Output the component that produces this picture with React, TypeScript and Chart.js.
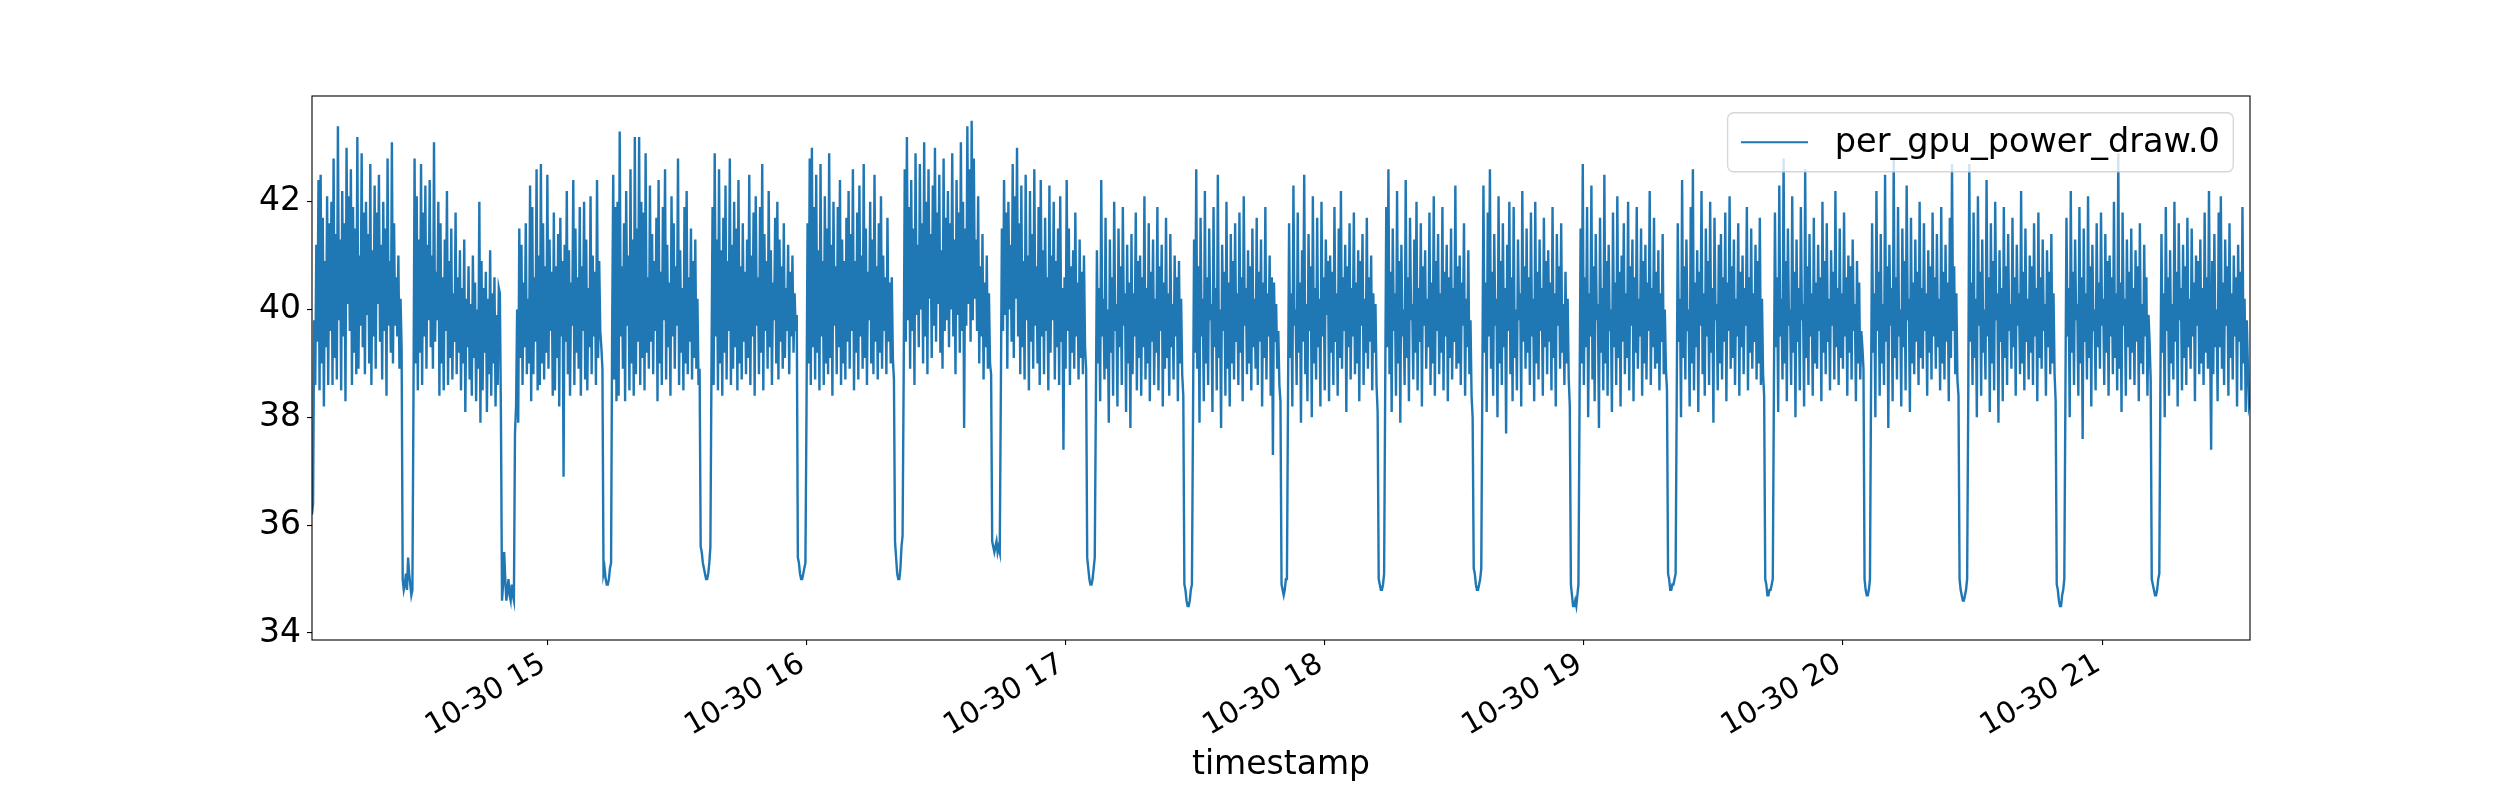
import { useEffect, useRef } from "react";
import Chart from "chart.js/auto";

const seriesName = "per_gpu_power_draw.0";
const xTitle = "timestamp";
const dayLabel = "10-30";
const hourTicks = [15, 16, 17, 18, 19, 20, 21];
const powerTicks = [34, 36, 38, 40, 42];
const powerMin = 33.87;
const powerMax = 43.96;
// first sample 14:05:30, then one sample every 15 s
const firstSampleMinute = 14 * 60 + 5.5;
const sampleStepMinutes = 0.25;

const powerDraw = [
  // 14:05 - 14:26
  36.2, 36.4, 39.8, 38.6, 41.2, 39.4, 42.4, 38.5, 42.5, 39.0, 41.7, 38.2, 40.9, 39.3, 42.1, 38.6, 41.6, 39.6, 42.0, 38.6,
  42.8, 39.1, 41.4, 38.7, 43.4, 39.8, 41.3, 38.5, 42.2, 39.5, 41.6, 38.3, 43.0, 40.1, 42.1, 39.6, 42.6, 38.6, 41.9, 39.2,
  41.5, 38.8, 43.2, 38.9, 41.0, 39.7, 42.9, 39.3, 41.8, 38.8, 42.0, 39.9, 41.4, 39.0, 42.7, 38.6, 41.1, 39.5, 42.3, 38.9,
  41.8, 40.1, 42.5, 39.4, 41.2, 38.7, 42.0, 39.6, 41.5, 38.4, 42.8, 39.7, 40.9, 39.2, 43.1, 39.0, 41.6, 39.7, 40.6, 39.5,
  41.0, 38.9, 40.2, 39.3,
  35.0, 34.8, 34.9, 35.1, 34.8, 35.4, 35.1, 34.9, 34.7, 34.8,
  // 14:29 - 14:49
  38.4, 42.8, 39.0, 42.1, 38.5, 41.3, 39.2, 42.7, 38.6, 41.8, 39.5, 42.3, 38.9, 41.2, 39.8, 42.4, 39.3, 41.0, 38.9, 43.1,
  39.4, 40.7, 39.8, 42.0, 38.4, 41.6, 39.0, 40.6, 38.5, 41.3, 39.6, 42.2, 38.6, 40.9, 39.1, 41.5, 38.7, 40.3, 39.4, 41.8,
  38.8, 40.6, 39.2, 41.1, 38.5, 40.4, 39.0, 41.3, 38.1, 40.2, 39.3, 40.8, 38.7, 40.1, 38.4, 41.0, 39.1, 40.5, 38.3, 40.0,
  38.9, 42.0, 37.9, 40.9, 38.5, 40.4, 39.2, 40.7, 38.1, 40.2, 38.8, 41.1, 38.4, 40.3, 39.0, 40.6, 38.2, 39.9, 38.6, 40.4,
  40.3, 38.0,
  34.6, 34.9, 35.5, 35.0, 34.6, 34.8, 35.0, 34.7, 34.6, 34.9, 34.7, 34.6,
  // 14:52 - 15:12
  37.7, 38.2, 40.0, 37.9, 41.5, 39.1, 41.2, 38.6, 40.5, 39.3, 41.6, 38.8, 40.2, 39.0, 42.3, 38.3, 41.9, 38.8, 40.6, 39.4,
  42.6, 38.5, 41.0, 38.6, 42.7, 39.0, 41.6, 38.7, 40.8, 39.2, 42.5, 38.9, 41.3, 39.6, 40.7, 38.4, 41.8, 38.5, 40.8, 39.1,
  41.4, 38.2, 41.7, 39.5, 40.9, 36.9, 41.2, 39.4, 42.2, 38.8, 41.1, 38.4, 40.5, 39.7, 42.4, 38.6, 41.5, 39.2, 40.6, 38.9,
  41.9, 38.4, 40.8, 39.6, 42.0, 38.7, 41.3, 38.5, 40.4, 39.3, 42.1, 38.8, 41.0, 39.5, 40.7, 38.6, 42.4, 39.1, 40.9, 39.6,
  39.3, 38.9,
  35.1, 35.2, 35.0, 34.9, 34.9, 35.0, 35.2, 35.3,
  // 15:15 - 15:35
  39.6, 42.5, 38.7, 41.9, 38.3, 42.0, 38.4, 43.3, 39.5, 40.8, 38.9, 41.6, 38.3, 42.2, 39.7, 41.0, 38.5, 42.6, 39.0, 41.3,
  38.4, 43.2, 38.8, 41.5, 39.4, 43.2, 38.6, 42.0, 39.1, 41.8, 38.5, 42.9, 39.2, 40.6, 38.9, 42.3, 39.4, 41.4, 38.8, 40.9,
  39.6, 41.7, 38.3, 42.4, 39.0, 40.7, 38.6, 41.9, 39.8, 42.6, 38.7, 41.2, 39.3, 40.5, 38.4, 42.1, 39.5, 41.6, 38.9, 40.8,
  39.7, 42.8, 38.6, 41.1, 39.2, 40.4, 38.5, 41.9, 39.0, 42.2, 38.8, 40.6, 39.4, 41.5, 38.7, 40.9, 39.1, 41.3, 38.9, 40.2,
  38.6, 38.9,
  35.6, 35.5, 35.3, 35.2, 35.1, 35.0, 35.0, 35.1, 35.3, 35.6,
  // 15:38 - 15:58
  38.9, 41.9, 38.6, 42.9, 39.5, 41.3, 38.5, 42.6, 39.0, 41.1, 38.4, 41.7, 39.2, 42.3, 38.7, 40.9, 39.6, 42.8, 38.6, 41.2,
  38.9, 42.0, 39.3, 41.5, 38.5, 42.4, 39.0, 40.8, 38.7, 41.6, 39.4, 40.7, 38.8, 41.3, 39.1, 42.5, 38.6, 41.0, 39.5, 41.8,
  38.4, 42.1, 39.7, 40.6, 38.8, 41.9, 39.2, 42.7, 38.5, 41.4, 39.6, 40.9, 38.9, 42.2, 39.3, 41.1, 38.6, 40.5, 39.8, 41.7,
  39.0, 42.0, 38.7, 41.3, 39.4, 40.8, 38.9, 41.6, 39.1, 40.4, 39.6, 41.2, 38.8, 40.7, 39.5, 41.0, 39.2, 40.3, 39.6, 39.9,
  35.4, 35.3, 35.1, 35.0, 35.0, 35.1, 35.2, 35.3,
  // 16:00 - 16:20
  38.1, 41.6, 39.0, 42.8, 38.6, 43.0, 39.3, 41.9, 38.7, 42.5, 39.2, 41.1, 38.5, 42.7, 39.5, 40.9, 38.6, 42.1, 39.0, 41.5,
  38.8, 42.9, 39.1, 41.2, 38.4, 42.0, 39.7, 40.8, 38.8, 41.9, 39.3, 42.4, 38.6, 41.3, 39.0, 40.9, 38.7, 41.7, 39.4, 42.2,
  38.9, 41.4, 39.6, 42.6, 38.5, 40.9, 39.2, 41.8, 38.7, 42.3, 39.5, 41.0, 38.9, 42.7, 39.1, 41.5, 38.6, 40.7, 39.8, 42.0,
  39.0, 41.3, 38.8, 42.5, 39.4, 40.8, 38.7, 41.6, 39.2, 42.1, 38.9, 41.0, 39.6, 40.6, 38.8, 41.7, 39.4, 40.5, 39.0, 40.6,
  39.1, 38.7,
  35.7, 35.4, 35.1, 35.0, 35.0, 35.2, 35.6, 35.8,
  // 16:22 - 16:42
  38.7, 42.6, 39.4, 43.2, 39.8, 41.9, 38.9, 42.4, 39.6, 41.5, 38.6, 42.9, 39.9, 41.2, 39.3, 42.7, 40.0, 41.6, 39.0, 43.1,
  39.5, 42.0, 38.8, 42.6, 40.2, 41.4, 39.1, 42.3, 39.7, 43.0, 39.4, 41.8, 40.1, 42.5, 39.2, 41.1, 38.9, 42.8, 39.6, 41.7,
  39.8, 42.2, 39.3, 41.6, 40.0, 42.9, 39.5, 41.3, 38.8, 42.4, 39.9, 41.8, 39.2, 43.1, 39.6, 42.0, 37.8, 41.5, 39.7, 43.4,
  40.1, 42.6, 39.4, 43.5, 39.8, 42.8, 40.2, 41.3, 39.6, 42.1, 39.0, 40.8, 39.5, 41.4, 38.7, 40.5, 39.3, 41.0, 38.9, 40.3,
  39.0, 38.8,
  35.7, 35.6, 35.5, 35.6, 35.7, 35.5, 35.6, 35.5,
  // 16:45 - 17:05
  38.4, 41.5, 39.6, 42.4, 39.9, 41.8, 38.9, 42.0, 40.0, 41.2, 39.4, 42.7, 39.1, 42.1, 40.2, 43.0, 39.5, 41.6, 38.8, 42.3,
  39.3, 40.9, 38.7, 42.5, 39.8, 41.0, 38.5, 42.2, 39.4, 41.4, 38.9, 42.6, 39.7, 40.8, 39.0, 41.9, 38.6, 42.4, 39.5, 41.1,
  38.8, 41.7, 39.6, 40.6, 38.5, 42.3, 39.2, 41.0, 39.8, 42.0, 38.7, 40.9, 39.3, 41.5, 38.6, 42.1, 39.4, 40.4, 37.4, 40.6,
  38.9, 42.4, 39.6, 41.5, 38.6, 40.8, 39.2, 41.1, 38.9, 41.8, 39.5, 40.5, 38.7, 41.3, 39.1, 40.7, 38.8, 41.0, 39.3, 38.9,
  35.4, 35.2, 35.0, 34.9, 34.9, 35.0, 35.2, 35.4,
  // 17:07 - 17:27
  38.2, 41.1, 39.0, 40.4, 38.3, 42.4, 39.5, 40.2, 38.7, 41.7, 38.9, 40.0, 37.9, 41.3, 39.2, 40.6, 38.4, 42.0, 39.6, 40.1,
  38.2, 41.5, 39.3, 40.8, 38.6, 41.9, 39.7, 40.3, 38.1, 41.2, 39.0, 40.5, 37.8, 41.4, 38.8, 40.3, 39.5, 41.8, 38.5, 40.9,
  39.1, 41.0, 38.4, 40.6, 39.3, 42.1, 38.7, 40.4, 39.0, 41.6, 38.3, 40.7, 39.4, 41.3, 38.6, 40.2, 39.2, 41.9, 38.5, 40.8,
  39.6, 41.2, 38.2, 40.5, 38.9, 41.7, 39.1, 40.3, 38.4, 41.4, 39.3, 40.1, 38.7, 41.0, 39.5, 40.6, 38.3, 40.9, 39.0, 40.2,
  38.8, 38.4,
  34.9, 34.8, 34.6, 34.5, 34.5, 34.6, 34.8, 34.9,
  // 17:29 - 17:50
  38.0, 41.3, 39.2, 42.6, 38.9, 40.8, 37.9, 41.7, 39.5, 40.2, 38.3, 42.2, 39.0, 40.6, 38.6, 41.5, 39.8, 40.1, 38.1, 41.9,
  39.3, 40.4, 38.5, 42.5, 39.1, 40.0, 37.8, 41.2, 39.6, 40.7, 38.4, 42.0, 38.9, 40.5, 38.2, 41.4, 39.0, 40.9, 38.7, 41.6,
  39.4, 40.3, 38.6, 41.8, 39.2, 40.6, 38.3, 42.1, 39.7, 40.4, 38.8, 41.1, 39.0, 40.8, 38.5, 41.5, 39.3, 40.2, 38.9, 41.7,
  38.6, 40.7, 39.4, 41.3, 38.2, 40.5, 39.1, 41.9, 38.7, 40.3, 39.5, 41.0, 38.4, 40.6, 37.3, 40.5, 39.4, 40.1, 38.9, 39.6,
  38.6, 38.3,
  34.9, 34.8, 34.7, 34.8, 35.0, 35.0,
  // 17:52 - 18:12
  38.4, 41.6, 39.1, 40.3, 38.2, 42.3, 39.7, 40.0, 38.6, 41.8, 39.2, 40.5, 37.9, 41.1, 39.4, 42.5, 38.8, 40.1, 38.3, 41.4,
  39.6, 40.8, 38.0, 42.1, 39.0, 40.4, 38.7, 41.7, 39.3, 40.2, 38.2, 42.0, 39.5, 40.6, 38.5, 41.3, 39.9, 40.9, 38.3, 41.0,
  39.2, 40.7, 38.6, 41.9, 39.4, 40.3, 38.4, 41.5, 39.1, 42.2, 38.9, 40.6, 39.6, 41.2, 38.1, 40.8, 39.3, 41.6, 38.7, 40.4,
  39.5, 41.8, 38.8, 40.5, 39.0, 41.1, 38.3, 40.9, 39.7, 41.4, 38.6, 40.2, 39.2, 41.7, 38.9, 40.6, 39.4, 41.0, 38.5, 40.3,
  39.2, 40.1, 38.6, 38.1,
  35.0, 34.9, 34.8, 34.8, 34.9, 35.1,
  // 18:14 - 18:34
  38.5, 41.9, 39.3, 42.6, 38.8, 40.7, 38.1, 41.5, 39.6, 40.3, 38.4, 42.2, 39.0, 40.9, 37.9, 41.2, 39.5, 40.0, 38.6, 42.4,
  39.1, 40.6, 38.3, 41.7, 39.8, 40.1, 38.7, 41.3, 39.2, 42.0, 38.5, 40.4, 39.4, 41.6, 38.2, 40.8, 39.7, 41.1, 38.9, 40.2,
  39.3, 41.8, 38.6, 40.5, 39.0, 42.1, 38.4, 40.9, 39.6, 41.4, 38.8, 40.3, 39.2, 41.9, 38.5, 40.7, 39.5, 41.2, 38.3, 40.6,
  39.1, 41.5, 38.7, 40.4, 39.4, 42.3, 38.9, 40.8, 39.0, 41.0, 38.6, 40.5, 39.7, 41.6, 38.4, 40.2, 39.3, 41.1, 38.8, 39.8,
  38.4, 38.0,
  35.2, 35.1, 34.9, 34.8, 34.8, 34.9, 35.0, 35.2,
  // 18:36 - 18:57
  38.7, 42.3, 39.2, 40.5, 38.1, 41.8, 39.5, 42.6, 38.9, 40.7, 38.4, 41.4, 39.7, 40.2, 38.0, 42.1, 39.0, 40.9, 38.6, 41.6,
  39.3, 40.4, 37.7, 41.2, 39.6, 42.0, 38.8, 40.6, 38.3, 41.9, 39.1, 40.0, 38.5, 41.3, 39.8, 40.3, 38.2, 42.2, 39.4, 40.8,
  38.9, 41.5, 39.2, 40.6, 38.6, 41.8, 39.5, 40.2, 38.3, 42.0, 39.0, 40.7, 38.7, 41.3, 39.6, 40.4, 38.4, 41.7, 39.3, 40.9,
  38.8, 41.1, 39.4, 40.5, 38.5, 41.9, 39.1, 40.3, 38.2, 41.4, 39.7, 40.8, 38.9, 41.6, 39.2, 40.1, 38.6, 40.7, 39.0, 40.2,
  38.7, 38.2,
  34.9, 34.7, 34.5, 34.5, 34.6, 34.5, 34.7, 34.9,
  // 18:59 - 19:19
  38.2, 41.5, 39.0, 42.7, 38.6, 40.6, 39.3, 41.9, 38.0, 40.3, 39.5, 42.3, 38.7, 40.8, 38.3, 41.4, 39.8, 40.1, 37.8, 41.7,
  39.2, 40.4, 38.5, 42.5, 39.0, 40.9, 38.4, 41.2, 39.6, 40.0, 38.1, 41.8, 39.3, 40.5, 38.6, 42.1, 39.1, 40.7, 38.2, 41.0,
  39.4, 41.6, 38.8, 40.3, 39.1, 42.0, 38.5, 40.8, 39.7, 41.3, 38.3, 40.6, 39.2, 41.9, 38.9, 40.2, 39.5, 41.5, 38.4, 40.9,
  39.0, 41.2, 38.7, 40.5, 39.6, 42.2, 38.6, 40.4, 39.3, 41.7, 38.9, 40.7, 39.0, 41.1, 38.5, 40.3, 39.4, 41.4, 38.8, 40.0,
  38.9, 38.5,
  35.1, 35.0, 34.8, 34.8, 34.9, 34.9, 35.0, 35.1,
  // 19:21 - 19:41
  38.3, 41.6, 39.4, 40.2, 38.0, 42.4, 39.1, 40.8, 38.7, 41.3, 39.6, 40.0, 38.2, 41.9, 39.0, 42.6, 38.5, 40.5, 39.3, 41.1,
  38.1, 40.7, 39.7, 42.2, 38.8, 40.3, 38.4, 41.5, 39.5, 40.9, 38.6, 42.0, 39.2, 40.4, 37.9, 41.7, 39.8, 40.1, 38.5, 41.2,
  39.0, 41.4, 38.7, 40.6, 39.4, 41.8, 38.3, 40.5, 39.6, 42.1, 38.9, 40.8, 39.1, 41.3, 38.6, 40.2, 39.5, 41.6, 38.4, 40.7,
  39.3, 41.0, 38.8, 40.4, 39.7, 41.9, 38.5, 40.6, 39.2, 41.5, 38.9, 40.3, 39.4, 41.2, 38.7, 40.9, 39.0, 41.7, 38.6, 40.2,
  38.8, 38.4,
  35.0, 34.9, 34.7, 34.7, 34.8, 34.8, 34.9, 35.0,
  // 19:43 - 20:04
  38.4, 41.8, 39.3, 40.6, 38.1, 42.3, 39.5, 40.2, 38.7, 42.8, 39.0, 40.9, 38.3, 41.5, 39.7, 40.0, 38.6, 42.1, 39.2, 40.7,
  38.0, 41.3, 39.4, 40.4, 38.5, 41.9, 39.8, 40.1, 38.2, 42.6, 39.1, 40.8, 38.6, 41.4, 39.5, 40.3, 38.4, 41.7, 39.0, 40.5,
  38.9, 41.2, 39.6, 40.6, 38.3, 42.0, 39.2, 40.9, 38.8, 41.6, 39.4, 40.2, 38.5, 41.1, 39.7, 40.7, 38.7, 42.2, 39.3, 40.4,
  38.6, 41.5, 39.1, 40.3, 38.9, 41.8, 39.5, 40.6, 38.4, 41.0, 39.2, 40.8, 38.7, 41.3, 39.6, 40.1, 38.3, 40.9, 39.0, 40.5,
  38.7, 39.6, 39.3, 38.9,
  35.0, 34.8, 34.7, 34.7, 34.8, 35.0,
  // 20:06 - 20:26
  38.5, 41.6, 39.2, 40.3, 38.0, 42.2, 39.6, 40.7, 38.4, 41.4, 39.0, 40.1, 38.6, 42.5, 39.4, 40.8, 37.8, 41.2, 39.7, 40.4,
  38.3, 42.8, 39.1, 40.6, 38.7, 41.9, 39.5, 40.0, 38.2, 41.5, 39.3, 40.9, 38.5, 42.3, 39.8, 40.2, 38.1, 41.7, 39.0, 40.5,
  38.8, 41.3, 39.4, 40.7, 38.6, 42.0, 39.1, 40.4, 38.9, 41.6, 39.6, 40.3, 38.4, 41.1, 39.2, 40.8, 38.7, 41.8, 39.5, 40.6,
  38.9, 41.4, 39.3, 40.2, 38.5, 41.9, 39.0, 40.7, 38.7, 41.2, 39.4, 40.5, 38.3, 41.7, 39.1, 42.7, 39.6, 40.8, 38.8, 40.3,
  38.7, 38.4,
  35.0, 34.8, 34.7, 34.6, 34.6, 34.7, 34.8, 35.0,
  // 20:28 - 20:49
  38.2, 42.7, 39.4, 40.5, 38.6, 41.8, 39.1, 40.2, 38.0, 42.1, 39.7, 40.7, 38.4, 41.3, 39.2, 40.0, 38.7, 42.4, 39.5, 40.6,
  38.1, 41.6, 39.0, 40.9, 38.5, 42.0, 39.8, 40.3, 37.9, 41.1, 39.4, 40.4, 38.3, 41.9, 39.1, 40.8, 38.6, 41.4, 39.6, 40.1,
  38.9, 41.7, 39.3, 40.6, 38.4, 41.2, 39.7, 40.3, 38.8, 42.2, 39.0, 40.7, 38.5, 41.5, 39.4, 40.2, 38.7, 41.0, 39.2, 40.8,
  38.6, 41.6, 39.5, 40.4, 38.3, 41.8, 39.1, 40.6, 38.9, 41.3, 39.6, 40.1, 38.4, 41.1, 39.3, 40.7, 38.8, 41.4, 39.0, 40.3,
  38.8, 38.3,
  34.9, 34.8, 34.6, 34.5, 34.5, 34.7, 34.8, 35.0,
  // 20:51 - 21:11
  38.3, 41.7, 39.5, 40.4, 38.0, 42.2, 39.2, 40.7, 38.6, 41.3, 39.8, 40.1, 38.4, 41.9, 39.0, 40.6, 37.6, 41.5, 39.4, 40.3,
  38.7, 42.1, 39.1, 40.8, 38.2, 41.2, 39.6, 40.0, 38.5, 41.6, 39.3, 40.5, 38.9, 41.8, 39.7, 40.2, 38.6, 41.4, 39.2, 40.9,
  38.4, 41.0, 39.5, 40.6, 38.8, 42.0, 39.1, 40.3, 38.5, 42.9, 38.9, 40.5, 38.1, 41.8, 39.7, 40.2, 38.4, 41.3, 39.3, 40.7,
  38.7, 41.5, 39.2, 40.4, 38.6, 41.1, 39.4, 40.8, 38.3, 41.6, 39.0, 40.1, 38.8, 41.2, 39.5, 40.6, 38.4, 39.9, 39.4, 38.7,
  35.0, 34.9, 34.8, 34.7, 34.7, 34.8, 35.0, 35.1,
  // 21:13 - 21:34
  38.6, 41.4, 39.2, 40.3, 38.0, 41.9, 39.6, 40.6, 38.4, 41.1, 39.0, 40.1, 38.7, 42.0, 39.4, 40.7, 38.2, 41.6, 39.8, 40.4,
  38.5, 41.2, 39.1, 40.8, 38.6, 41.7, 39.3, 40.2, 38.9, 41.5, 39.5, 40.5, 38.3, 41.0, 39.7, 40.9, 38.8, 41.3, 39.0, 40.4,
  38.6, 41.8, 39.2, 40.6, 38.9, 42.2, 39.5, 37.4, 40.9, 38.8, 41.4, 39.3, 40.0, 38.3, 41.8, 39.3, 42.1, 38.9, 40.5, 38.6,
  41.3, 39.7, 40.8, 38.4, 41.6, 39.1, 40.3, 38.7, 41.0, 39.5, 40.6, 38.2, 41.2, 39.4, 40.7, 38.5, 41.9, 39.0, 40.2, 38.1,
  39.8, 39.0, 38.2, 38.3,
];

const FONT = "'DejaVu Sans', sans-serif";
const Y_TICK_SIZE = 33;
const X_TICK_SIZE = 29.5;
const LEGEND_SIZE = 33.5;
const LINE_BLUE = "#1f77b4";

const framePlugin = {
  id: "axesFrame",
  afterDatasetsDraw(chart: Chart) {
    const { ctx, chartArea } = chart;
    ctx.save();
    ctx.strokeStyle = "#000";
    ctx.lineWidth = 1.1;
    ctx.strokeRect(
      chartArea.left,
      chartArea.top,
      chartArea.right - chartArea.left,
      chartArea.bottom - chartArea.top
    );
    ctx.restore();
  },
};

// matplotlib style legend inside the axes, upper right
const insetLegend = {
  id: "insetLegend",
  afterDraw(chart: Chart) {
    const { ctx, chartArea } = chart;
    const pad = LEGEND_SIZE * 0.4;
    const handle = LEGEND_SIZE * 2;
    const gap = LEGEND_SIZE * 0.8;
    ctx.save();
    ctx.font = `${LEGEND_SIZE}px ${FONT}`;
    const textWidth = ctx.measureText(seriesName).width;
    const width = pad * 2 + handle + gap + textWidth;
    const height = 59;
    const right = chartArea.right - LEGEND_SIZE * 0.5;
    const top = chartArea.top + LEGEND_SIZE * 0.5;
    const left = right - width;
    const midY = top + height / 2;

    ctx.beginPath();
    ctx.roundRect(left, top, width, height, 6);
    ctx.fillStyle = "rgba(255,255,255,0.8)";
    ctx.fill();
    ctx.strokeStyle = "rgba(204,204,204,0.8)";
    ctx.lineWidth = 1.3;
    ctx.stroke();

    ctx.beginPath();
    ctx.moveTo(left + pad, midY);
    ctx.lineTo(left + pad + handle, midY);
    ctx.strokeStyle = LINE_BLUE;
    ctx.lineWidth = 2;
    ctx.stroke();

    ctx.fillStyle = "#000";
    ctx.textAlign = "left";
    ctx.textBaseline = "middle";
    ctx.fillText(seriesName, left + pad + handle + gap, midY + 1);
    ctx.restore();
  },
};

const App = () => {
  const chartRef = useRef<HTMLCanvasElement | null>(null);

  useEffect(() => {
    if (!chartRef.current) return;

    const points = powerDraw.map((y, i) => ({
      x: firstSampleMinute + i * sampleStepMinutes,
      y,
    }));

    const chartInstance = new Chart(chartRef.current, {
      type: "line",
      data: {
        datasets: [
          {
            label: seriesName,
            data: points,
            borderColor: LINE_BLUE,
            backgroundColor: LINE_BLUE,
            borderWidth: 2.4,
            pointRadius: 0,
            tension: 0,
            fill: false,
          },
        ],
      },
      options: {
        animation: false,
        responsive: true,
        maintainAspectRatio: false,
        layout: { padding: { top: 96, right: 250, bottom: 0, left: 0 } },
        plugins: {
          legend: { display: false },
          tooltip: { enabled: false },
        },
        scales: {
          x: {
            type: "linear",
            min: points[0].x,
            max: points[points.length - 1].x,
            afterBuildTicks: (scale: any) => {
              scale.ticks = hourTicks.map((h) => ({ value: h * 60 }));
            },
            afterFit: (scale: any) => {
              scale.height = 160;
            },
            grid: {
              drawOnChartArea: false,
              drawTicks: true,
              tickLength: 5,
              color: "#000",
              lineWidth: 1.1,
            },
            border: { display: false },
            ticks: {
              autoSkip: false,
              minRotation: 30,
              maxRotation: 30,
              padding: 2,
              labelOffset: -4,
              color: "#000",
              font: { family: FONT, size: X_TICK_SIZE },
              callback: (value: any) =>
                `${dayLabel} ${Math.round(Number(value) / 60)}`,
            },
            title: {
              display: true,
              text: xTitle,
              color: "#000",
              font: { family: FONT, size: Y_TICK_SIZE },
              padding: { top: 0, bottom: 15 },
            },
          },
          y: {
            type: "linear",
            min: powerMin,
            max: powerMax,
            afterBuildTicks: (scale: any) => {
              scale.ticks = powerTicks.map((v) => ({ value: v }));
            },
            afterFit: (scale: any) => {
              scale.width = 312;
            },
            grid: {
              drawOnChartArea: false,
              drawTicks: true,
              tickLength: 5,
              color: "#000",
              lineWidth: 1.1,
            },
            border: { display: false },
            ticks: {
              autoSkip: false,
              padding: 6,
              color: "#000",
              font: { family: FONT, size: Y_TICK_SIZE },
              callback: (value: any) => `${value}`,
            },
          },
        },
      },
      plugins: [framePlugin, insetLegend],
    });

    return () => {
      chartInstance.destroy();
    };
  }, []);

  return (
    <div
      style={{
        position: "absolute",
        left: 0,
        top: 0,
        width: 2500,
        height: 800,
        background: "#fff",
      }}
    >
      <canvas ref={chartRef}></canvas>
    </div>
  );
};

export default App;
